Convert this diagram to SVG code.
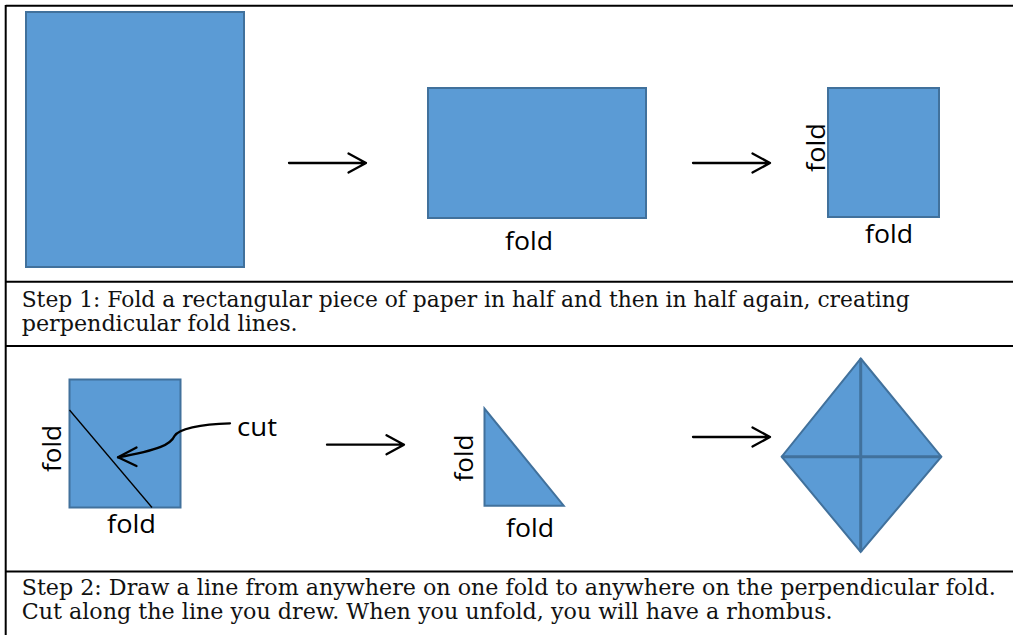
<svg xmlns="http://www.w3.org/2000/svg" width="1013" height="635" viewBox="0 0 1013 635">
  <style>
    .paper { fill: #5B9BD5; stroke: #41719C; stroke-width: 2; }
    .crease { stroke: #41719C; stroke-width: 3; fill: none; }
    .rule { stroke: #000; stroke-width: 2; fill: none; }
    .conn { stroke: #000; stroke-width: 2.3; fill: none; stroke-linecap: round; stroke-linejoin: round; }
    .lbl { font-family: "Open Sans", "Liberation Sans", sans-serif; font-size: 26px; fill: #000; }
    .step { font-family: "DejaVu Serif", "Liberation Serif", serif; font-size: 21.5px; fill: #111; }
  </style>
  <rect x="0" y="0" width="1013" height="635" fill="#fff"/>

  <g id="table">
    <line class="rule" x1="5.7" y1="5.7" x2="1013" y2="5.7"/>
    <line class="rule" x1="5.7" y1="5" x2="5.7" y2="635"/>
    <line class="rule" x1="5" y1="281.7" x2="1013" y2="281.7"/>
    <line class="rule" x1="5" y1="346" x2="1013" y2="346"/>
    <line class="rule" x1="5" y1="571.5" x2="1013" y2="571.5"/>
  </g>

  <g id="step1-text">
    <text class="step" x="21.7" y="307" textLength="888" lengthAdjust="spacingAndGlyphs">Step 1: Fold a rectangular piece of paper in half and then in half again, creating</text>
    <text class="step" x="21.7" y="331" textLength="276" lengthAdjust="spacingAndGlyphs">perpendicular fold lines.</text>
  </g>
  <g id="step2-text">
    <text class="step" x="21.7" y="595" textLength="974" lengthAdjust="spacingAndGlyphs">Step 2: Draw a line from anywhere on one fold to anywhere on the perpendicular fold.</text>
    <text class="step" x="21.7" y="619" textLength="811" lengthAdjust="spacingAndGlyphs">Cut along the line you drew. When you unfold, you will have a rhombus.</text>
  </g>

  <g id="paper-full">
    <rect class="paper" x="26" y="12" width="218" height="255"/>
  </g>

  <g id="paper-half">
    <rect class="paper" x="428" y="88" width="218" height="130"/>
    <text class="lbl" x="505" y="250" textLength="48" lengthAdjust="spacingAndGlyphs">fold</text>
  </g>

  <g id="paper-quarter">
    <rect class="paper" x="828" y="88" width="111" height="129"/>
    <text class="lbl" transform="translate(825,172) rotate(-90)" x="0" y="0" textLength="49" lengthAdjust="spacingAndGlyphs">fold</text>
    <text class="lbl" x="865" y="243" textLength="48" lengthAdjust="spacingAndGlyphs">fold</text>
  </g>

  <g id="paper-cut">
    <rect class="paper" x="69.5" y="379.5" width="111" height="128"/>
    <line x1="69.5" y1="410" x2="152" y2="507.5" stroke="#000" stroke-width="1.3"/>
    <text class="lbl" transform="translate(61,472) rotate(-90)" x="0" y="0" textLength="47" lengthAdjust="spacingAndGlyphs">fold</text>
    <text class="lbl" x="107" y="533" textLength="49" lengthAdjust="spacingAndGlyphs">fold</text>
    <text class="lbl" x="237" y="435.7" textLength="40" lengthAdjust="spacingAndGlyphs">cut</text>
  </g>

  <g id="triangle">
    <polygon class="paper" points="484.5,408.5 484.5,505.7 563.7,505.7"/>
    <text class="lbl" transform="translate(473,481.5) rotate(-90)" x="0" y="0" textLength="47" lengthAdjust="spacingAndGlyphs">fold</text>
    <text class="lbl" x="506" y="537" textLength="48" lengthAdjust="spacingAndGlyphs">fold</text>
  </g>

  <g id="rhombus">
    <polygon class="paper" points="860.7,358.5 941.3,456.7 860.7,552 781.7,456.7"/>
    <line class="crease" x1="860.7" y1="358.5" x2="860.7" y2="552"/>
    <line class="crease" x1="781.7" y1="456.7" x2="941.3" y2="456.7"/>
  </g>

  <g id="connectors">
    <path class="conn" d="M289,163 H366 M348.5,153.5 L366,163 L348.5,172.5"/>
    <path class="conn" d="M693,163 H770 M752.5,153.5 L770,163 L752.5,172.5"/>
    <path class="conn" d="M327,444.7 H404 M386.5,435.2 L404,444.7 L386.5,454.2"/>
    <path class="conn" d="M693,437 H770 M752.5,427.5 L770,437 L752.5,446.5"/>
    <path class="conn" stroke-width="2.6" d="M230,423.3 C200,424 178,429 174.5,436 C171,444 160,450 118,457.3"/>
    <path class="conn" stroke-width="2.6" d="M136.5,447.5 L118,457.3 L136.5,466"/>
  </g>
</svg>
